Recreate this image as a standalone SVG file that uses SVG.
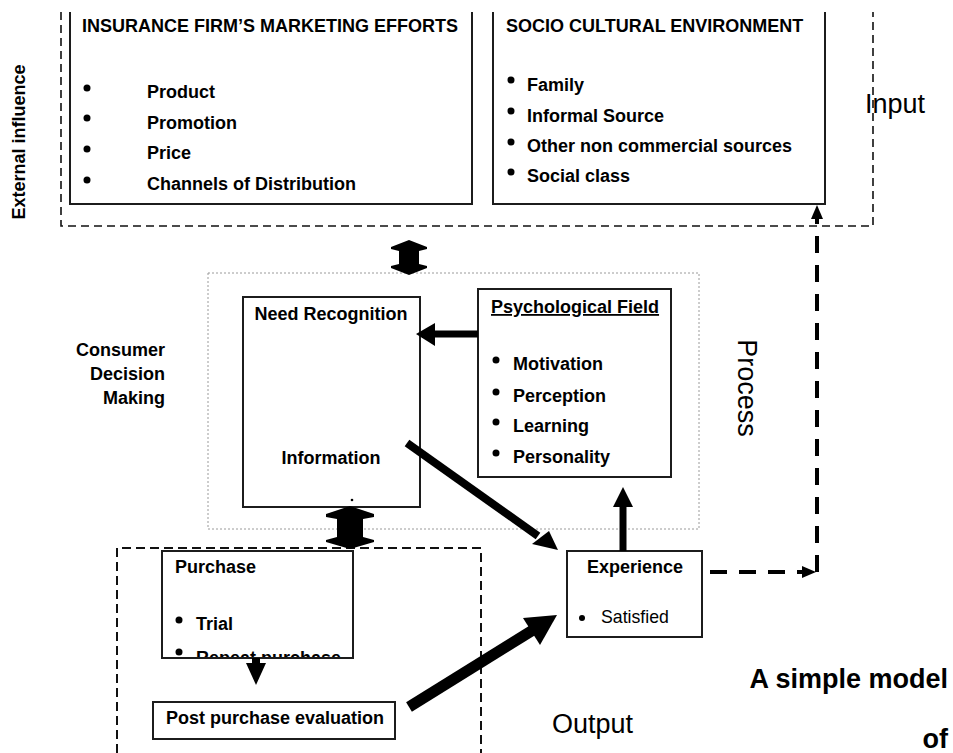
<svg xmlns="http://www.w3.org/2000/svg" width="953" height="753" viewBox="0 0 953 753">
  <style>
    text { font-family: "Liberation Sans", Arial, sans-serif; fill: #000; }
    .b { font-weight: bold; font-size: 18px; }
    .r { font-size: 17.7px; }
    .big { font-size: 27px; }
    .bigb { font-size: 27px; font-weight: bold; }
    .box { fill: #fff; stroke: #1c1c1c; stroke-width: 2; }
    .edge { fill: none; stroke: #1c1c1c; stroke-width: 2; }
    .zone { fill: none; stroke: #111; stroke-width: 1.6; stroke-dasharray: 8 5; }
    .zone2 { fill: none; stroke: #111; stroke-width: 2; stroke-dasharray: 9 5; }
    .dots { fill: none; stroke: #9a9a9a; stroke-width: 1; stroke-dasharray: 2 2; }
    .feedback { fill: none; stroke: #000; stroke-width: 4; stroke-dasharray: 17 12; }
    .solid { fill: #000; stroke: none; }
    .bullet { fill: #000; }
  </style>
  <defs>
    <clipPath id="purchaseClip">
      <rect x="163" y="552" width="189" height="105"/>
    </clipPath>
  </defs>

  <rect width="953" height="753" fill="#fff"/>

  <!-- zone outlines -->
  <g id="zones">
    <path class="zone" d="M61,12 V226 H873 V12"/>
    <rect class="dots" x="208" y="273" width="491" height="256"/>
    <path class="zone2" d="M117,753 V548 H481 V753"/>
  </g>

  <!-- side labels -->
  <g id="labels">
    <text class="b" transform="translate(25,142) rotate(-90)" text-anchor="middle">External influence</text>
    <text class="big" x="865" y="113">Input</text>
    <text class="big" transform="translate(738,388) rotate(90)" text-anchor="middle">Process</text>
    <text class="b" x="165" y="356" text-anchor="end">Consumer</text>
    <text class="b" x="165" y="380" text-anchor="end">Decision</text>
    <text class="b" x="165" y="404" text-anchor="end">Making</text>
    <text class="big" x="552" y="733">Output</text>
    <text class="bigb" x="948" y="688" text-anchor="end">A simple model</text>
    <text class="bigb" x="948" y="748" text-anchor="end">of</text>
  </g>

  <!-- marketing efforts -->
  <g id="marketing">
    <path class="edge" d="M70,12 V204 H472 V12"/>
    <text class="b" x="82" y="32">INSURANCE FIRM’S MARKETING EFFORTS</text>
    <circle class="bullet" cx="87" cy="88" r="3.5"/>
    <circle class="bullet" cx="87" cy="118" r="3.5"/>
    <circle class="bullet" cx="87" cy="149" r="3.5"/>
    <circle class="bullet" cx="87" cy="180" r="3.5"/>
    <text class="b" x="147" y="98">Product</text>
    <text class="b" x="147" y="129">Promotion</text>
    <text class="b" x="147" y="159">Price</text>
    <text class="b" x="147" y="190">Channels of Distribution</text>
  </g>

  <!-- socio cultural environment -->
  <g id="socio">
    <path class="edge" d="M493,12 V204 H825 V12"/>
    <text class="b" x="506" y="32">SOCIO CULTURAL ENVIRONMENT</text>
    <circle class="bullet" cx="511" cy="80" r="3.5"/>
    <circle class="bullet" cx="511" cy="111" r="3.5"/>
    <circle class="bullet" cx="511" cy="142" r="3.5"/>
    <circle class="bullet" cx="511" cy="172" r="3.5"/>
    <text class="b" x="527" y="91">Family</text>
    <text class="b" x="527" y="122">Informal Source</text>
    <text class="b" x="527" y="152">Other non commercial sources</text>
    <text class="b" x="527" y="182">Social class</text>
  </g>

  <!-- need recognition -->
  <g id="need">
    <rect class="box" x="243" y="297" width="177" height="210"/>
    <text class="b" x="331" y="320" text-anchor="middle">Need Recognition</text>
    <text class="b" x="331" y="464" text-anchor="middle">Information</text>
    <circle class="bullet" cx="352" cy="500" r="1.3"/>
  </g>

  <!-- psychological field -->
  <g id="psych">
    <rect class="box" x="478" y="289" width="193" height="188"/>
    <text class="b" x="491" y="313" text-decoration="underline">Psychological Field</text>
    <circle class="bullet" cx="496" cy="360" r="3.5"/>
    <circle class="bullet" cx="496" cy="392" r="3.5"/>
    <circle class="bullet" cx="496" cy="422" r="3.5"/>
    <circle class="bullet" cx="496" cy="453" r="3.5"/>
    <text class="b" x="513" y="370">Motivation</text>
    <text class="b" x="513" y="402">Perception</text>
    <text class="b" x="513" y="432">Learning</text>
    <text class="b" x="513" y="463">Personality</text>
  </g>

  <!-- purchase -->
  <g id="purchase">
    <rect class="box" x="162" y="551" width="191" height="107"/>
    <text class="b" x="175" y="573">Purchase</text>
    <circle class="bullet" cx="179" cy="620" r="3.5"/>
    <text class="b" x="196" y="630">Trial</text>
    <g clip-path="url(#purchaseClip)">
      <circle class="bullet" cx="179" cy="652" r="3.5"/>
      <text class="b" x="196" y="664">Repeat purchase</text>
    </g>
  </g>

  <!-- post purchase evaluation -->
  <g id="postpurchase">
    <rect class="box" x="153" y="702" width="242" height="37"/>
    <text class="b" x="166" y="724">Post purchase evaluation</text>
  </g>

  <!-- experience -->
  <g id="experience">
    <rect class="box" x="567" y="551" width="135" height="86"/>
    <text class="b" x="635" y="573" text-anchor="middle">Experience</text>
    <circle class="bullet" cx="582" cy="618" r="3"/>
    <text class="r" x="601" y="623">Satisfied</text>
  </g>

  <!-- connectors -->
  <g id="connectors">
    <!-- two-way: external influence <-> decision making -->
    <polygon class="solid" points="409,240 427,247 427,249 419,251 419,264 427,266 427,268 409,275 391,268 391,266 399,264 399,251 391,249 391,247"/>
    <!-- two-way: information <-> purchase -->
    <polygon class="solid" points="350,506 374,514 374,517 363,519 363,537 374,540 374,542 350,549 326,542 326,540 337,537 337,519 326,517 326,514"/>
    <!-- psychological field -> need recognition -->
    <polygon class="solid" points="478,330.5 435,330.5 435,323 416,334 435,346 435,337.5 478,337.5"/>
    <!-- information -> experience -->
    <line x1="407" y1="443" x2="538" y2="536" stroke="#000" stroke-width="8"/>
    <polygon class="solid" points="558,550 532,544 549,531"/>
    <!-- experience -> psychological field -->
    <line x1="623" y1="551" x2="623" y2="505" stroke="#000" stroke-width="7"/>
    <polygon class="solid" points="623,487 633,507 613,507"/>
    <!-- purchase -> post purchase evaluation -->
    <line x1="256" y1="658" x2="256" y2="665" stroke="#000" stroke-width="8"/>
    <polygon class="solid" points="256,685 246,663 266,663"/>
    <!-- post purchase evaluation -> experience -->
    <line x1="409" y1="707" x2="533" y2="630" stroke="#000" stroke-width="11"/>
    <polygon class="solid" points="557,615 523,618 540,645"/>
    <!-- experience feeds back to the environment -->
    <path class="feedback" d="M710,572 H804"/>
    <polygon class="solid" points="816,572 802,566 802,578"/>
    <path class="feedback" d="M817,572 V219"/>
    <polygon class="solid" points="817,205 811,219 823,219"/>
  </g>
</svg>
